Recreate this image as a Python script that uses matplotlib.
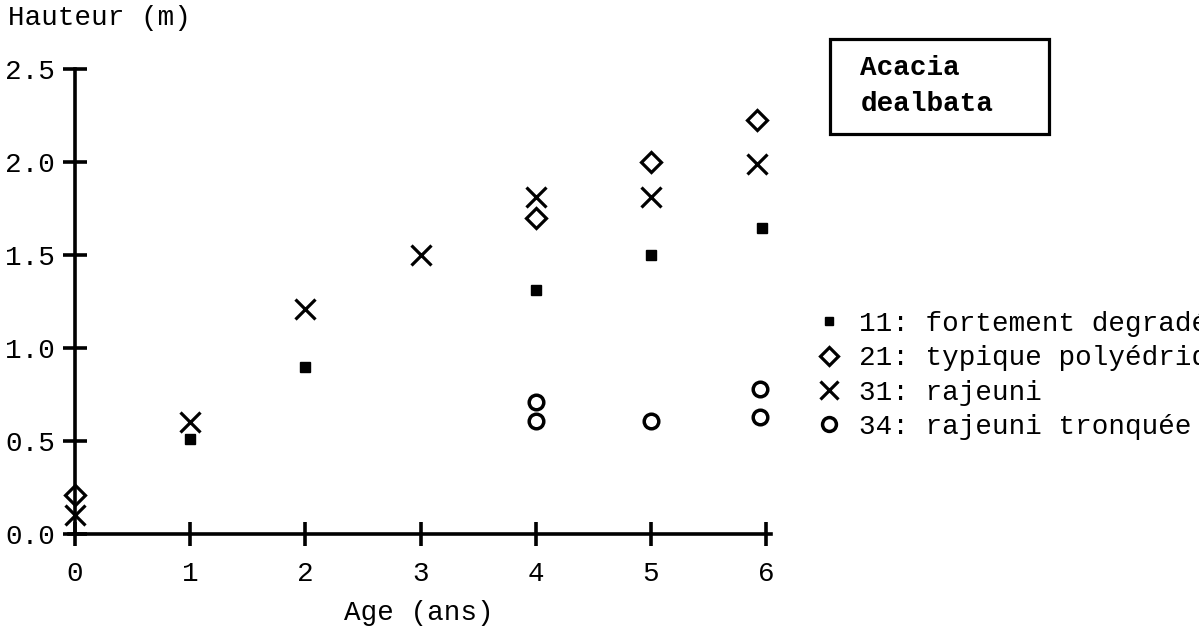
import matplotlib
matplotlib.use("Agg")
import matplotlib.pyplot as plt

plt.rcParams['font.family'] = ['Liberation Mono', 'DejaVu Sans Mono']

# Data
age_11 = [1, 2, 4, 5, 5.96]
h_11 = [0.51, 0.90, 1.31, 1.50, 1.645]
age_21 = [0, 4, 5, 5.92]
h_21 = [0.21, 1.70, 2.00, 2.225]
age_31 = [0, 1, 2, 3, 4, 5, 5.92]
h_31 = [0.10, 0.60, 1.21, 1.50, 1.81, 1.81, 1.99]
age_34 = [4, 4, 5, 5.95, 5.95]
h_34 = [0.71, 0.61, 0.61, 0.78, 0.63]

labels = ["11: fortement degradé", "21: typique polyédrique",
          "31: rajeuni", "34: rajeuni tronquée"]
x_ticks = [0, 1, 2, 3, 4, 5, 6]
y_ticks = [0.0, 0.5, 1.0, 1.5, 2.0, 2.5]

FS = 19.9
fig = plt.figure(figsize=(11.99, 6.32), dpi=100)
ax = fig.add_axes([0.0577, 0.1551, 0.5852, 0.7358])
ax.set_xlim(-0.05, 6.04)
ax.set_ylim(0, 2.5)

l1, = ax.plot(age_11, h_11, linestyle='none', marker='s', markersize=6.5,
              color='black', clip_on=False)
l2, = ax.plot(age_21, h_21, linestyle='none', marker='D', markersize=10,
              markerfacecolor='white', markeredgecolor='black', markeredgewidth=2.3,
              clip_on=False)
l3, = ax.plot(age_31, h_31, linestyle='none', marker='x', markersize=14,
              color='black', markeredgewidth=2.3, clip_on=False)
l4, = ax.plot(age_34, h_34, linestyle='none', marker='o', markersize=10.5,
              markerfacecolor='white', markeredgecolor='black', markeredgewidth=2.5,
              clip_on=False)

for s in ['top', 'right']:
    ax.spines[s].set_visible(False)
ax.spines['left'].set_position(('data', 0))
ax.spines['left'].set_bounds(0, 2.5)
for s in ['left', 'bottom']:
    ax.spines[s].set_linewidth(2.6)

ax.set_xticks(x_ticks)
ax.set_xticklabels([str(v) for v in x_ticks])
ax.set_yticks(y_ticks)
ax.set_yticklabels([f"{v:.1f}" for v in y_ticks])
ax.tick_params(axis='both', direction='inout', length=17, width=2.6,
               labelsize=FS, colors='black')
ax.tick_params(axis='x', pad=11)
ax.tick_params(axis='y', pad=6)

fig.text(0.007, 0.972, "Hauteur (m)", fontsize=FS, ha='left', va='center')
fig.text(0.349, 0.030, "Age (ans)", fontsize=FS, ha='center', va='center')

fig.text(0.7175, 0.864, "Acacia\ndealbata", fontsize=FS, fontweight='bold',
         ha='left', va='center', linespacing=1.52)
box = plt.Rectangle((0.6925, 0.788), 0.1826, 0.150, transform=fig.transFigure,
                    fill=False, edgecolor='black', linewidth=2.3)
fig.add_artist(box)

leg = fig.legend([l1, l2, l3, l4], labels, loc='upper left',
                 bbox_to_anchor=(0.681, 0.508), frameon=False, fontsize=FS,
                 handlelength=0.9, handletextpad=0.62, labelspacing=0.3,
                 borderpad=0, borderaxespad=0, markerscale=0.95)

fig.savefig("out.png", dpi=100)
